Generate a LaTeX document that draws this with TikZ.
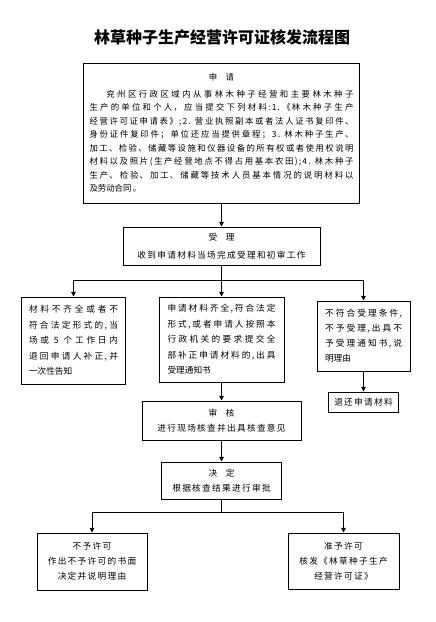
\documentclass[tikz,border=0pt]{standalone}
\usepackage{fontspec}
\usetikzlibrary{arrows.meta}
\newfontfamily\cjk[LetterSpace=15]{Noto Sans CJK SC}
\newfontfamily\cjktitle{Noto Sans CJK SC}
\XeTeXlinebreaklocale "zh"
\XeTeXlinebreakskip=0pt plus 2pt
\XeTeXlinebreakpenalty=10000
\newdimen\pxu \pxu=0.75pt
\tikzset{
  box/.style={draw, line width=0.75pt, inner sep=0pt, align=center,
    font=\cjk\fontsize{6.5pt}{11.6pt}\selectfont},
  textbox/.style={box, align=justify},
  flow/.style={line width=0.75pt, -{Triangle[length=3.4pt,width=3.4pt]}},
  fork/.style={line width=0.75pt},
}
\begin{document}
\begin{tikzpicture}[x=\pxu,y=-\pxu]
\useasboundingbox (0,0) rectangle (436,622);
%title
\node (title) at (222,37) {\cjktitle\bfseries\fontsize{12pt}{14pt}\selectfont 林草种子生产经营许可证核发流程图};
%apply and accept
\node[textbox, minimum width=276\pxu, minimum height=140\pxu, text width=264\pxu,
  font=\cjk\fontsize{6.3pt}{10.1pt}\selectfont] (apply) at (221.5,133)
  {\centerline{申\hspace{1em}请}\par\vspace{2.5pt}
   \hspace*{2em}兖州区行政区域内从事林木种子经营和主要林木种子\linebreak
   生产的单位和个人，应当提交下列材料:1.《林木种子生产\linebreak
   经营许可证申请表》;2.~营业执照副本或者法人证书复印件、\linebreak
   身份证件复印件；单位还应当提供章程；3.~林木种子生产、\linebreak
   加工、检验、储藏等设施和仪器设备的所有权或者使用权说明\linebreak
   材料以及照片(生产经营地点不得占用基本农田);4.~林木种子\linebreak
   生产、检验、加工、储藏等技术人员基本情况的说明材料以\linebreak
   及劳动合同。};
\node[box, minimum width=197\pxu, minimum height=38\pxu,
  font=\cjk\fontsize{6.5pt}{13.5pt}\selectfont] (accept) at (221.5,246)
  {受\hspace{1em}理\\收到申请材料当场完成受理和初审工作};
%three results
\node[textbox, minimum width=104\pxu, minimum height=87\pxu, text width=89\pxu] (incomplete) at (73.5,340.5)
  {材料不齐全或者不\linebreak
   符合法定形式的,当\linebreak
   场或~5~个工作日内\linebreak
   退回申请人补正,并\linebreak
   一次性告知};
\node[textbox, minimum width=125\pxu, minimum height=85\pxu, text width=108\pxu] (complete) at (221.5,339.5)
  {申请材料齐全,符合法定\linebreak
   形式,或者申请人按照本\linebreak
   行政机关的要求提交全\linebreak
   部补正申请材料的,出具\linebreak
   受理通知书};
\node[textbox, minimum width=93\pxu, minimum height=70\pxu, text width=77\pxu,
  font=\cjk\fontsize{6.5pt}{11.25pt}\selectfont] (reject) at (363.5,336)
  {不符合受理条件,\linebreak
   不予受理,出具不\linebreak
   予受理通知书,说\linebreak
   明理由};
\node[box, minimum width=70\pxu, minimum height=20\pxu] (returnmat) at (363.5,402) {退还申请材料};
%review and decide
\node[box, minimum width=159\pxu, minimum height=39\pxu] (review) at (221.5,420.5)
  {审\hspace{1em}核\\进行现场核查并出具核查意见};
\node[box, minimum width=120\pxu, minimum height=37\pxu] (decide) at (221.5,480.5)
  {决\hspace{1em}定\\根据核查结果进行审批};
\node[box, minimum width=110\pxu, minimum height=57\pxu,
  font=\cjk\fontsize{6.5pt}{11.25pt}\selectfont] (deny) at (92,561.5)
  {不予许可\\作出不予许可的书面\\决定并说明理由};
\node[box, minimum width=111\pxu, minimum height=56\pxu,
  font=\cjk\fontsize{6.5pt}{11.25pt}\selectfont] (grant) at (343.5,561)
  {准予许可\\核发《林草种子生产\\经营许可证》};
%connectors
\coordinate (fork1) at (221.5,280);
\coordinate (fork2) at (221.5,512);
\draw[flow] (apply) -- (accept);
\draw[fork] (accept) -- (fork1);
\draw[flow] (fork1) -| (incomplete);
\draw[flow] (fork1) -- (complete);
\draw[flow] (fork1) -| (reject);
\draw[flow] (reject) -- (returnmat);
\draw[flow] (complete) -- (review);
\draw[flow] (review) -- (decide);
\draw[fork] (decide) -- (fork2);
\draw[flow] (fork2) -| (deny);
\draw[flow] (fork2) -| (grant);
\end{tikzpicture}
\end{document}
